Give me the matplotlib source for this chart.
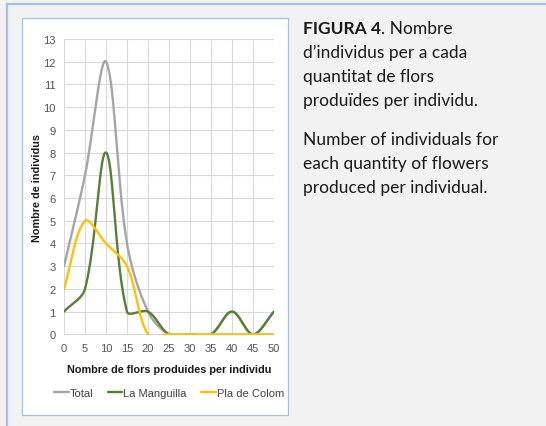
import matplotlib
matplotlib.use("Agg")
import matplotlib.pyplot as plt
import numpy as np
from matplotlib.patches import Rectangle
from matplotlib.lines import Line2D

flowers = [0, 5, 10, 15, 20, 25, 30, 35, 40, 45, 50]
total = [3, 7, 12, 4, 1, 0, 0, 0, 1, 0, 1]
manguilla = [1, 2, 8, 1, 1, 0, 0, 0, 1, 0, 1]
pla_colom = [2, 5, 4, 3, 0, 0, 0, 0, 0, 0, 0]

series = [("Total", total, "#a5a5a5"),
          ("La Manguilla", manguilla, "#548235"),
          ("Pla de Colom", pla_colom, "#ffc000")]

caption_ca = ["d\u2019individus per a cada", "quantitat de flors",
              "produ\u00efdes per individu."]
caption_en = ["Number of individuals for", "each quantity of flowers",
              "produced per individual."]

W, H = 546, 427
AX_RECT = [64 / W, 1 - 336 / H, 210 / W, 296 / H]
XMAX, YMIN, YMAX = 50, -0.03, 13


def smooth(x, y, n=40):
    # bezier smoothing like excel: tangents from neighbours, control
    # lengths split by the on-screen lengths of the two segments
    sx = 210 / XMAX
    sy = 296 / (YMAX - YMIN)
    p = np.column_stack([np.asarray(x, float), np.asarray(y, float)])
    scr = p * [sx, sy]
    seg = np.hypot(*np.diff(scr, axis=0).T)
    fwd = np.zeros_like(p)
    back = np.zeros_like(p)
    for i in range(1, len(p) - 1):
        d = p[i + 1] - p[i - 1]
        lp, ln = seg[i - 1], seg[i]
        fwd[i] = d * ln / (lp + ln) / 3
        back[i] = d * lp / (lp + ln) / 3
    fwd[0] = (p[1] - p[0]) / 3
    back[-1] = (p[-1] - p[-2]) / 3
    t = np.linspace(0, 1, n)[:, None]
    out = []
    for i in range(len(p) - 1):
        p0, p3 = p[i], p[i + 1]
        c1 = p0 + fwd[i]
        c2 = p3 - back[i + 1]
        b = (1 - t) ** 3 * p0 + 3 * (1 - t) ** 2 * t * c1 + 3 * (1 - t) * t ** 2 * c2 + t ** 3 * p3
        out.append(b)
    out = np.vstack(out)
    return out[:, 0], out[:, 1]


fig = plt.figure(figsize=(W / 100, H / 100), dpi=100)
fig.patch.set_facecolor("#f2f2f2")

# page frame lines
fig.add_artist(Line2D([7 / W, 1], [1 - 4.5 / H, 1 - 4.5 / H], color="#9dc3e6", lw=1.6))
fig.add_artist(Line2D([7 / W, 7 / W], [0, 1 - 4.5 / H], color="#9dc3e6", lw=1.6))
# chart box
fig.add_artist(Rectangle((22 / W, 1 - 416 / H), 266 / W, 397 / H, facecolor="white",
                         edgecolor="#9dc3e6", lw=0.9, transform=fig.transFigure,
                         zorder=-10))

ax = fig.add_axes(AX_RECT)
ax.set_facecolor("none")
for name, vals, col in series:
    sx, sy = smooth(flowers, vals)
    ax.plot(sx, sy, color=col, lw=1.7, label=name, solid_capstyle="round")

ax.set_xlim(0, XMAX)
ax.set_ylim(YMIN, YMAX)
ax.set_xticks(flowers)
ax.set_yticks(range(0, 14))
ax.grid(True, color="#d9d9d9", lw=0.8)
ax.set_axisbelow(True)
for s in ax.spines.values():
    s.set_visible(False)
ax.tick_params(length=0, labelsize=8, labelcolor="#505050", pad=6)
for lab in ax.get_xticklabels() + ax.get_yticklabels():
    lab.set_family("Liberation Sans")

lbl_font = dict(family=["Liberation Sans Narrow", "Liberation Sans"], weight="bold",
                size=7.8, color="#1a1a1a")
ax.set_xlabel("Nombre de flors produides per individu", labelpad=8, **lbl_font)
ax.set_ylabel("Nombre de individus", labelpad=1, **lbl_font)

leg = ax.legend(loc="center", bbox_to_anchor=(0.5, -0.195), ncol=3, frameon=False,
                handlelength=1.3, handletextpad=0.1, columnspacing=1.3,
                prop=dict(family="Liberation Sans", size=8))
for t in leg.get_texts():
    t.set_color("#404040")

# caption
tx = 303 / W
cap_font = dict(fontsize=12.5, family="Lato", va="center", color="#1a1a1a")
t1 = fig.text(tx, 1 - 29 / H, "FIGURA 4", weight="bold", **cap_font)
fig.canvas.draw()
bb = t1.get_window_extent()
fig.text(bb.x1 / W, 1 - 29 / H, ". Nombre", **cap_font)
for i, line in enumerate(caption_ca):
    fig.text(tx, 1 - (53 + 24 * i) / H, line, **cap_font)
for i, line in enumerate(caption_en):
    fig.text(tx, 1 - (140 + 24 * i) / H, line, **cap_font)

fig.savefig("out.png", dpi=100, facecolor=fig.get_facecolor())
